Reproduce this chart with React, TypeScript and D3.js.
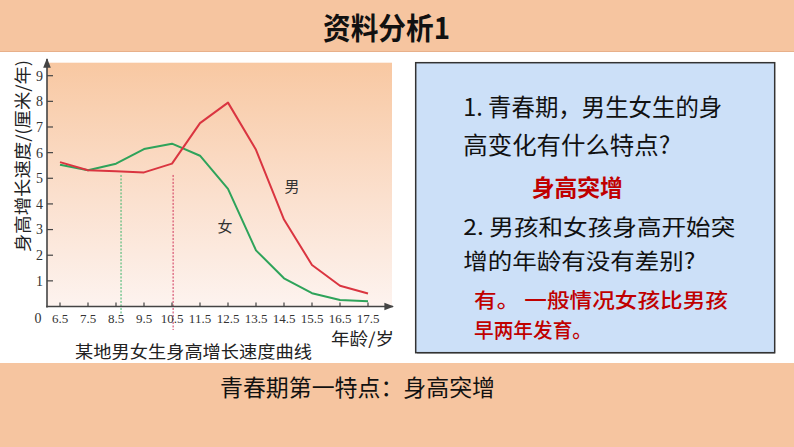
import React from "react";
import * as d3 from "d3";

const ages = [6.5, 7.5, 8.5, 9.5, 10.5, 11.5, 12.5, 13.5, 14.5, 15.5, 16.5, 17.5];
const boys = [5.63, 5.31, 5.27, 5.23, 5.57, 7.15, 7.95, 6.11, 3.39, 1.62, 0.81, 0.51];
const girls = [5.53, 5.31, 5.57, 6.14, 6.35, 5.88, 4.59, 2.19, 1.1, 0.52, 0.25, 0.2];
const yTicks = [1, 2, 3, 4, 5, 6, 7, 8, 9];
const xTickLabels = ["6.5", "7.5", "8.5", "9.5", "10.5", "11.5", "12.5", "13.5", "14.5", "15.5", "16.5", "17.5"];
const girlsStartAge = 8.68;
const boysStartAge = 10.54;
const markerTop = 5.13;

const title = "资料分析1";
const yAxisLabel = "身高增长速度/(厘米/年)";
const xAxisLabel = "年龄/岁";
const chartCaption = "某地男女生身高增长速度曲线";
const boysLabel = "男";
const girlsLabel = "女";
const bottomText = "青春期第一特点：身高突增";

const CJK = "'Noto Sans CJK SC', 'Noto Sans', sans-serif";
const SERIF = "'Liberation Serif', 'DejaVu Serif', serif";

export default function App() {
  const x = d3.scaleLinear().domain([6.5, 17.5]).range([60, 368]);
  const y = d3.scaleLinear().domain([0, 9]).range([306.5, 75.7]);
  const line = d3
    .line<number>()
    .x((_, i) => x(ages[i]))
    .y((d) => y(d));

  const axisColor = "#444";

  return (
    <svg
      width={794}
      height={447}
      viewBox="0 0 794 447"
      style={{ position: "absolute", left: 0, top: 0, display: "block", background: "#fff" }}
    >
      <defs>
        <linearGradient id="chartBg" x1="0" y1="0" x2="0" y2="1">
          <stop offset="0" stopColor="#F8C8A2" />
          <stop offset="0.55" stopColor="#FBE0CE" />
          <stop offset="1" stopColor="#FDF3EF" />
        </linearGradient>
        <marker id="arrow" viewBox="0 0 10 10" refX="9" refY="5" markerWidth="6" markerHeight="6" orient="auto">
          <path d="M0,1 L10,5 L0,9 Z" fill={axisColor} />
        </marker>
      </defs>

      {/* top band */}
      <rect x={0} y={0} width={794} height={51} fill="#F6C5A0" />
      <line x1={0} x2={794} y1={51.5} y2={51.5} stroke="#E8B08A" strokeWidth={1} />
      <text
        x={386.5}
        y={28}
        textAnchor="middle"
        dy="0.35em"
        fontFamily={CJK}
        fontWeight={700}
        fontSize={30}
        textLength={127}
        lengthAdjust="spacingAndGlyphs"
        fill="#111"
      >
        {title}
      </text>

      {/* chart background */}
      <rect x={47} y={62.7} width={345} height={y(0) - 62.7} fill="url(#chartBg)" />

      {/* dashed markers */}
      <line
        x1={x(girlsStartAge)}
        x2={x(girlsStartAge)}
        y1={y(markerTop)}
        y2={315}
        stroke="#3BB56A"
        strokeWidth={1}
        strokeDasharray="2,1.5"
      />
      <line
        x1={x(boysStartAge)}
        x2={x(boysStartAge)}
        y1={y(markerTop)}
        y2={330}
        stroke="#D0345A"
        strokeWidth={1}
        strokeDasharray="2,1.5"
      />

      {/* lines */}
      <path d={line(girls) || ""} fill="none" stroke="#2EA35A" strokeWidth={2} strokeLinejoin="round" />
      <path d={line(boys) || ""} fill="none" stroke="#DA3540" strokeWidth={2} strokeLinejoin="round" />

      {/* axes */}
      <line x1={47} x2={47} y1={y(0) + 1} y2={59} stroke={axisColor} strokeWidth={1.6} markerEnd="url(#arrow)" />
      <line x1={46.2} x2={393} y1={y(0)} y2={y(0)} stroke={axisColor} strokeWidth={1.6} markerEnd="url(#arrow)" />
      {yTicks.map((t) => (
        <g key={"yt" + t}>
          <line x1={47} x2={53} y1={y(t)} y2={y(t)} stroke={axisColor} strokeWidth={1.2} />
          <text x={39.5} y={y(t)} dy="0.35em" textAnchor="middle" fontFamily={SERIF} fontSize={14} fill="#333">
            {t}
          </text>
        </g>
      ))}
      <text x={38} y={318} dy="0.35em" textAnchor="middle" fontFamily={SERIF} fontSize={14} fill="#333">
        0
      </text>
      {ages.map((a, i) => (
        <g key={"xt" + a}>
          <line x1={x(a)} x2={x(a)} y1={y(0)} y2={y(0) - 4} stroke={axisColor} strokeWidth={1.2} />
          <text x={x(a)} y={318} dy="0.35em" textAnchor="middle" fontFamily={SERIF} fontSize={13} fill="#333">
            {xTickLabels[i]}
          </text>
        </g>
      ))}

      {/* series labels */}
      <text x={292} y={187} dy="0.35em" textAnchor="middle" fontFamily={CJK} fontSize={15} fill="#333">
        {boysLabel}
      </text>
      <text x={225} y={227} dy="0.35em" textAnchor="middle" fontFamily={CJK} fontSize={15} fill="#333">
        {girlsLabel}
      </text>

      {/* axis titles */}
      <text
        transform="translate(23,156) rotate(-90)"
        textAnchor="middle"
        dy="0.35em"
        fontFamily={CJK}
        fontSize={17}
        textLength={192}
        lengthAdjust="spacingAndGlyphs"
        fill="#222"
      >
        {yAxisLabel}
      </text>
      <text
        x={331}
        y={339}
        dy="0.35em"
        fontFamily={CJK}
        fontSize={17}
        textLength={63}
        lengthAdjust="spacingAndGlyphs"
        fill="#222"
      >
        {xAxisLabel}
      </text>
      <text
        x={75}
        y={352}
        dy="0.35em"
        fontFamily={CJK}
        fontSize={17}
        textLength={237}
        lengthAdjust="spacingAndGlyphs"
        fill="#222"
      >
        {chartCaption}
      </text>

      {/* question box */}
      <rect x={417} y={64} width={358} height={290} fill="#888" opacity={0.5} />
      <rect x={415.7} y={62.7} width={359} height={290} fill="#CCE0F8" stroke="#333" strokeWidth={1.5} />
      <g fontFamily={CJK}>
        <text x={463.3} y={107.5} dy="0.35em" fontSize={24} fill="#111" textLength={259} lengthAdjust="spacingAndGlyphs">
          1. 青春期，男生女生的身
        </text>
        <text x={463.3} y={146} dy="0.35em" fontSize={24} fill="#111" textLength={207} lengthAdjust="spacingAndGlyphs">
          高变化有什么特点?
        </text>
        <text x={531.7} y={188} dy="0.35em" fontSize={23} fontWeight={700} fill="#C00000" textLength={91} lengthAdjust="spacingAndGlyphs">
          身高突增
        </text>
        <text x={463.3} y={227} dy="0.35em" fontSize={22} fill="#111" textLength={272} lengthAdjust="spacingAndGlyphs">
          2. 男孩和女孩身高开始突
        </text>
        <text x={463.3} y={261} dy="0.35em" fontSize={22} fill="#111" textLength={232} lengthAdjust="spacingAndGlyphs">
          增的年龄有没有差别?
        </text>
        <text x={474} y={301} dy="0.35em" fontSize={20.5} fontWeight={500} fill="#C00000" textLength={254} lengthAdjust="spacingAndGlyphs">
          有。 一般情况女孩比男孩
        </text>
        <text x={474} y={331} dy="0.35em" fontSize={20.5} fontWeight={500} fill="#C00000" textLength={118} lengthAdjust="spacingAndGlyphs">
          早两年发育。
        </text>
      </g>

      {/* bottom band */}
      <rect x={0} y={363} width={794} height={84} fill="#F6C5A0" />
      <text
        x={220}
        y={388}
        dy="0.35em"
        fontFamily={CJK}
        fontSize={23}
        textLength={275}
        lengthAdjust="spacingAndGlyphs"
        fill="#111"
      >
        {bottomText}
      </text>
    </svg>
  );
}
